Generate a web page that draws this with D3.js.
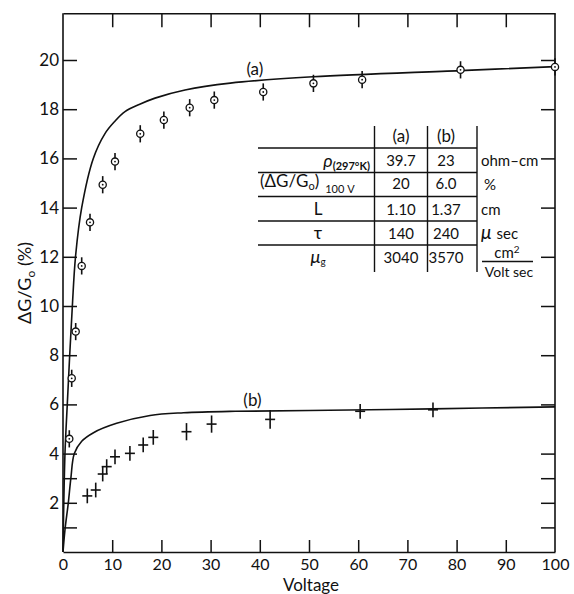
<!DOCTYPE html>
<html><head><meta charset="utf-8">
<script src="https://cdn.jsdelivr.net/npm/d3@7"></script>
<style>
html,body{margin:0;padding:0;background:#fff;}
svg text{font-family:Lato,"DejaVu Sans",sans-serif;font-weight:400;fill:#111;}
</style></head>
<body>
<svg id="chart" width="574" height="594"></svg>
<script>
// ---- data ----
const voltsA = [1.28, 1.77, 2.58, 3.8, 5.49, 8.07, 10.57, 15.7, 20.5, 25.75, 30.75, 40.7, 50.9, 60.8, 80.8, 100];
const valsA  = [4.6, 7.06, 8.96, 11.63, 13.4, 14.93, 15.87, 17.0, 17.56, 18.06, 18.37, 18.7, 19.05, 19.2, 19.6, 19.72];
const errA   = [0.35, 0.35, 0.35, 0.35, 0.35, 0.35, 0.35, 0.35, 0.35, 0.35, 0.35, 0.35, 0.35, 0.35, 0.35, 0.35];

const voltsB = [4.94, 6.65, 8.07, 8.88, 10.57, 13.6, 16.3, 18.35, 25.1, 30.2, 42.1, 60.4, 75.2];
const valsB  = [2.28, 2.52, 3.17, 3.47, 3.87, 4.01, 4.35, 4.66, 4.89, 5.2, 5.39, 5.72, 5.78];
const errB   = [0.3, 0.3, 0.3, 0.3, 0.3, 0.3, 0.3, 0.3, 0.35, 0.35, 0.38, 0.3, 0.3];

const curveAV = [0, 0.4, 0.87, 1.36, 1.9, 2.54, 3.8, 6.16, 8.5, 10.5, 12.6, 15.6, 18.7, 24.8, 34, 50.8, 80.7, 100];
const curveAY = [0, 4, 6, 8, 10, 12, 14, 16, 17, 17.5, 17.9, 18.2, 18.45, 18.78, 19.06, 19.32, 19.57, 19.73];
const curveBV = [0, 0.4, 1.08, 1.6, 2.3, 3.8, 6.2, 10.9, 17.7, 24.5, 35, 50, 75, 100];
const curveBY = [0, 0.9, 2.0, 3.0, 4.0, 4.5, 4.85, 5.23, 5.55, 5.66, 5.72, 5.75, 5.82, 5.9];

const xTicks = [0, 10, 20, 30, 40, 50, 60, 70, 80, 90, 100];
const yTicks = [1, 2, 3, 4, 6, 8, 10, 12, 14, 16, 18, 20];
const yLabels = [2, 4, 6, 8, 10, 12, 14, 16, 18, 20];
const yTop = 21.9;

const tableCols = ["(a)", "(b)"];
const tableA = ["39.7", "20", "1.10", "140", "3040"];
const tableB = ["23", "6.0", "1.37", "240", "3570"];

// ---- drawing ----
(function(){
const svg = d3.select("#chart");
const x = d3.scaleLinear().domain([0, 100]).range([63, 555]);
const y = d3.scaleLinear().domain([0, 20]).range([552, 60]);

const ink = "#111";
const g = svg.append("g");

function styleAxis(sel){
  sel.select(".domain").attr("stroke", ink).attr("stroke-width", 1.6);
  sel.selectAll(".tick line").attr("stroke", ink).attr("stroke-width", 1.5);
  sel.selectAll(".tick text").style("font-size", "17px").attr("fill", ink);
}
const yTopPx = y(yTop);

const axLeft = g.append("g").attr("transform", `translate(${x(0)},0)`)
  .call(d3.axisLeft(y).tickValues(yTicks).tickSize(-14).tickSizeOuter(0).tickPadding(4)
    .tickFormat(d => yLabels.includes(d) ? d : ""));
axLeft.select(".domain").attr("d", `M0,${y(0)}V${yTopPx}`);
styleAxis(axLeft);

const axRight = g.append("g").attr("transform", `translate(${x(100)},0)`)
  .call(d3.axisRight(y).tickValues(yTicks).tickSize(-14).tickSizeOuter(0).tickFormat(""));
axRight.select(".domain").attr("d", `M0,${y(0)}V${yTopPx}`);
styleAxis(axRight);

const axBottom = g.append("g").attr("transform", `translate(0,${y(0)})`)
  .call(d3.axisBottom(x).tickValues(xTicks).tickSize(-12).tickSizeOuter(0).tickPadding(6));
styleAxis(axBottom);
axBottom.selectAll(".tick text").style("font-size", "16px").attr("dy", "0.72em").attr("y", 6);
axBottom.selectAll(".tick").filter(d => d === 0 || d === 100).select("line").remove();

const axTop = g.append("g").attr("transform", `translate(0,${yTopPx})`)
  .call(d3.axisTop(x).tickValues(xTicks.filter(d => d > 0 && d < 100)).tickSize(-14).tickSizeOuter(0).tickFormat(""));
styleAxis(axTop);

const line = d3.line().x(d => x(d[0])).y(d => y(d[1])).curve(d3.curveCatmullRom.alpha(0.5));
g.append("path").datum(curveAV.map((v, i) => [v, curveAY[i]]))
  .attr("d", line).attr("fill", "none").attr("stroke", ink).attr("stroke-width", 1.6);
g.append("path").datum(curveBV.map((v, i) => [v, curveBY[i]]))
  .attr("d", line).attr("fill", "none").attr("stroke", ink).attr("stroke-width", 1.6);

const ptsA = voltsA.map((v, i) => ({v, val: valsA[i], e: errA[i]}));
const ga = g.selectAll("g.pa").data(ptsA).join("g").attr("class", "pa");
ga.append("line").attr("x1", d => x(d.v)).attr("x2", d => x(d.v))
  .attr("y1", d => y(d.val + d.e)).attr("y2", d => y(d.val - d.e))
  .attr("stroke", ink).attr("stroke-width", 1.6);
ga.append("circle").attr("cx", d => x(d.v)).attr("cy", d => y(d.val)).attr("r", 3.6)
  .attr("fill", "#fff").attr("stroke", ink).attr("stroke-width", 1.3);
ga.append("circle").attr("cx", d => x(d.v)).attr("cy", d => y(d.val)).attr("r", 0.9).attr("fill", ink);

const ptsB = voltsB.map((v, i) => ({v, val: valsB[i], e: errB[i]}));
const gb = g.selectAll("g.pb").data(ptsB).join("g").attr("class", "pb");
gb.append("line").attr("x1", d => x(d.v)).attr("x2", d => x(d.v))
  .attr("y1", d => y(d.val + d.e)).attr("y2", d => y(d.val - d.e))
  .attr("stroke", ink).attr("stroke-width", 1.6);
gb.append("line").attr("x1", d => x(d.v) - 5).attr("x2", d => x(d.v) + 5)
  .attr("y1", d => y(d.val)).attr("y2", d => y(d.val))
  .attr("stroke", ink).attr("stroke-width", 1.6);

g.append("text").attr("x", x(39)).attr("y", y(19.2) - 5).attr("text-anchor", "middle")
  .style("font-size", "17px").text("(a)");
g.append("text").attr("x", x(38.5)).attr("y", y(5.72) - 5).attr("text-anchor", "middle")
  .style("font-size", "17px").text("(b)");

g.append("text").attr("x", 311).attr("y", 591).attr("text-anchor", "middle")
  .style("font-size", "17px").text("Voltage");
const yl = g.append("text").attr("transform", "translate(31,283) rotate(-90)")
  .attr("text-anchor", "middle").style("font-size", "18px");
yl.append("tspan").text("\u0394G/G");
yl.append("tspan").attr("dy", 4).style("font-size", "12px").text("o");
yl.append("tspan").attr("dy", -4).text(" (%)");

const tbl = g.append("g");
const tLine = (x1, y1, x2, y2) => tbl.append("line").attr("x1", x1).attr("y1", y1).attr("x2", x2).attr("y2", y2)
  .attr("stroke", ink).attr("stroke-width", 1.4);
[148, 172.5, 196.5, 221, 245].forEach(yy => tLine(258, yy, 477, yy));
[374.5, 427.5, 477].forEach(xx => tLine(xx, 126, xx, 272));
const colX = [401, 446];
const rowY = [166, 189, 215, 239, 263];
tableCols.forEach((c, i) => tbl.append("text").attr("x", colX[i]).attr("y", 142).attr("text-anchor", "middle")
  .style("font-size", "17px").text(c));
tableA.forEach((t, i) => tbl.append("text").attr("x", colX[0]).attr("y", rowY[i]).attr("text-anchor", "middle")
  .style("font-size", "15px").text(t));
tableB.forEach((t, i) => tbl.append("text").attr("x", colX[1]).attr("y", rowY[i]).attr("text-anchor", "middle")
  .style("font-size", "15px").text(t));
const r1 = tbl.append("text").attr("x", 370).attr("y", rowY[0] + 1).attr("text-anchor", "end").style("font-size", "18px");
r1.append("tspan").style("font-style", "italic").text("\u03C1");
r1.append("tspan").attr("dy", 3).style("font-size", "11px").style("font-weight", "700").text("(297\u00B0K)");
const r2 = tbl.append("text").attr("x", 260).attr("y", rowY[1] - 2).style("font-size", "17px");
r2.append("tspan").text("(\u0394G/G");
r2.append("tspan").attr("dy", 3).style("font-size", "11px").text("o");
r2.append("tspan").attr("dy", -3).text(")");
r2.append("tspan").attr("dy", 6).attr("dx", 6).style("font-size", "11px").text("100 V");
tbl.append("text").attr("x", 318).attr("y", rowY[2]).attr("text-anchor", "middle").style("font-size", "17px").text("L");
tbl.append("text").attr("x", 318).attr("y", rowY[3]).attr("text-anchor", "middle").style("font-size", "18px").text("\u03C4");
const r5 = tbl.append("text").attr("x", 318).attr("y", rowY[4]).attr("text-anchor", "middle").style("font-size", "18px");
r5.append("tspan").style("font-style", "italic").text("\u03BC");
r5.append("tspan").attr("dy", 2).style("font-size", "10px").text("g");
tbl.append("text").attr("x", 481).attr("y", rowY[0]).style("font-size", "15px").text("ohm\u2013cm");
tbl.append("text").attr("x", 484).attr("y", rowY[1] + 1).style("font-size", "15px").text("%");
tbl.append("text").attr("x", 481).attr("y", rowY[2]).style("font-size", "15px").text("cm");
const u4 = tbl.append("text").attr("x", 481).attr("y", rowY[3]).style("font-size", "15px");
u4.append("tspan").style("font-size", "19px").style("font-style", "italic").text("\u03BC");
u4.append("tspan").attr("dx", 5).text("sec");
const u5 = tbl.append("text").attr("x", 507).attr("y", 258).attr("text-anchor", "middle").style("font-size", "15px");
u5.append("tspan").text("cm");
u5.append("tspan").attr("dy", -5).style("font-size", "10px").text("2");
tLine(482, 261.5, 533, 261.5);
tbl.append("text").attr("x", 509).attr("y", 277).attr("text-anchor", "middle").style("font-size", "14px").text("Volt  sec");
})();
</script>
</body></html>
